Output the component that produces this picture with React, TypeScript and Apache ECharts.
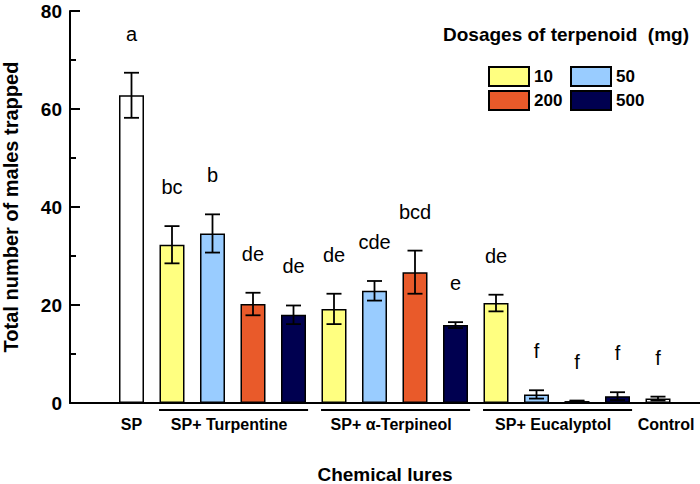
import React, { useEffect, useRef } from "react";
import * as echarts from "echarts";

const FONT = "'Liberation Sans', Arial, Helvetica, sans-serif";

// Bars in drawing order (index 0..13)
const doseOf = ["SP", "10", "50", "200", "500", "10", "50", "200", "500", "10", "50", "200", "500", "Control"];
const means = [62.8, 32.3, 34.6, 20.2, 18.0, 19.2, 22.9, 26.7, 15.9, 20.4, 1.75, 0.4, 1.4, 0.9];
const errors = [4.6, 3.8, 3.9, 2.3, 1.9, 3.1, 2.0, 4.4, 0.6, 1.7, 0.85, 0.1, 0.8, 0.4];
const letters = ["a", "bc", "b", "de", "de", "de", "cde", "bcd", "e", "de", "f", "f", "f", "f"];

const doses = ["10", "50", "200", "500"];
const doseColors = ["#FFFF80", "#99CCFF", "#E95A2A", "#000050"];

const groupLabels = ["SP", "SP+ Turpentine", "SP+ \u03b1-Terpineol", "SP+ Eucalyptol", "Control"];
const groupLabelPos = [0, 2.41, 6.41, 10.41, 13.2];
const groupStart = [1, 5, 9];
const groupEnd = [4, 8, 12];

export default function App() {
  const ref = useRef<HTMLDivElement>(null);
  useEffect(() => {
    if (!ref.current) return;
    const chart = echarts.init(ref.current, null, { renderer: "svg" });

    const barSeries: any[] = doses.map((d, k) => ({
      type: "bar",
      name: d,
      barWidth: 25,
      barGap: "-100%",
      itemStyle: { color: doseColors[k], borderColor: "#000", borderWidth: 1.5 },
      data: means.map((m, i) => (doseOf[i] === d ? [i, m] : null)).filter((x) => x !== null),
      z: 2,
    }));
    barSeries.push({
      type: "bar",
      name: "base",
      barWidth: 25,
      barGap: "-100%",
      itemStyle: { color: "#fff", borderColor: "#000", borderWidth: 1.5 },
      data: means.map((m, i) => (doseOf[i] === "SP" || doseOf[i] === "Control" ? [i, m] : null)).filter((x) => x !== null),
      z: 2,
    });

    const option: any = {
      animation: false,
      backgroundColor: "#fff",
      title: {
        text: "Dosages of terpenoid  (mg)",
        left: 443,
        top: 25,
        padding: 0,
        textStyle: { fontSize: 19, fontWeight: "bold", color: "#000", fontFamily: FONT },
      },
      legend: {
        data: doses,
        left: 488,
        top: 66,
        width: 165,
        padding: 0,
        itemWidth: 40,
        itemHeight: 19,
        itemGap: 3,
        icon: "rect",
        selectedMode: false,
        textStyle: { fontSize: 17, fontWeight: "bold", color: "#000", width: 33, lineHeight: 19, fontFamily: FONT },
      },
      grid: { left: 70, right: 0, top: 11, bottom: 81, containLabel: false, outerBoundsMode: "none" },
      xAxis: {
        type: "value",
        min: -1.5185,
        max: 14.037,
        splitLine: { show: false },
        axisTick: { show: false },
        axisLine: { show: true, onZero: false, lineStyle: { color: "#000", width: 2 } },
        axisLabel: {
          customValues: groupLabelPos,
          formatter: (v: number) => {
            let best = 0;
            groupLabelPos.forEach((p, k) => {
              if (Math.abs(p - v) < Math.abs(groupLabelPos[best] - v)) best = k;
            });
            return groupLabels[best];
          },
          fontSize: 16,
          fontWeight: "bold",
          color: "#000",
          fontFamily: FONT,
          margin: 13,
        },
        name: "Chemical lures",
        nameLocation: "middle",
        nameGap: 62,
        nameTextStyle: { fontSize: 19, fontWeight: "bold", color: "#000", fontFamily: FONT },
      },
      yAxis: {
        type: "value",
        min: 0,
        max: 80,
        interval: 20,
        splitLine: { show: false },
        axisLine: { show: true, onZero: false, lineStyle: { color: "#000", width: 2 } },
        axisTick: { show: true, inside: true, length: 10, lineStyle: { color: "#000", width: 2 } },
        minorTick: { show: true, splitNumber: 2, length: 6, lineStyle: { color: "#000", width: 2 } },
        axisLabel: { fontSize: 19, fontWeight: "bold", color: "#000", fontFamily: FONT, margin: 8, lineHeight: 15 },
        name: "Total number of males trapped",
        nameLocation: "middle",
        nameGap: 51,
        nameTextStyle: { fontSize: 20, fontWeight: "bold", color: "#000", fontFamily: FONT, lineHeight: 17 },
      },
      series: [
        ...barSeries,
        {
          type: "custom",
          name: "err",
          z: 5,
          data: means.map((m, i) => [i, m, errors[i]]),
          renderItem: (params: any, api: any) => {
            const i = api.value(0);
            const m = api.value(1);
            const e = api.value(2);
            const top = api.coord([i, m + e]);
            const bot = api.coord([i, Math.max(m - e, 0)]);
            const hw = 7.5;
            const st = { stroke: "#000", lineWidth: 1.8 };
            return {
              type: "group",
              children: [
                { type: "line", shape: { x1: top[0], y1: top[1], x2: bot[0], y2: bot[1] }, style: st },
                { type: "line", shape: { x1: top[0] - hw, y1: top[1], x2: top[0] + hw, y2: top[1] }, style: st },
                { type: "line", shape: { x1: bot[0] - hw, y1: bot[1], x2: bot[0] + hw, y2: bot[1] }, style: st },
                {
                  type: "text",
                  x: top[0],
                  y: top[1] - 39,
                  style: {
                    text: letters[params.dataIndex],
                    fontSize: 20,
                    fontFamily: FONT,
                    fill: "#000",
                    align: "center",
                    verticalAlign: "middle",
                  },
                },
              ],
            };
          },
        },
        {
          type: "custom",
          name: "groups",
          z: 5,
          data: groupStart.map((s, k) => [s, groupEnd[k]]),
          renderItem: (params: any, api: any) => {
            const p1 = api.coord([api.value(0) - 0.32, 0]);
            const p2 = api.coord([api.value(1) + 0.36, 0]);
            return {
              type: "line",
              shape: { x1: p1[0], y1: p1[1] + 7, x2: p2[0], y2: p2[1] + 7 },
              style: { stroke: "#000", lineWidth: 2 },
            };
          },
        },
      ],
    };
    chart.setOption(option);
    return () => chart.dispose();
  }, []);
  return (
    <div
      ref={ref}
      style={{ position: "fixed", left: 0, top: 0, width: 700, height: 484, background: "#fff" }}
    />
  );
}
